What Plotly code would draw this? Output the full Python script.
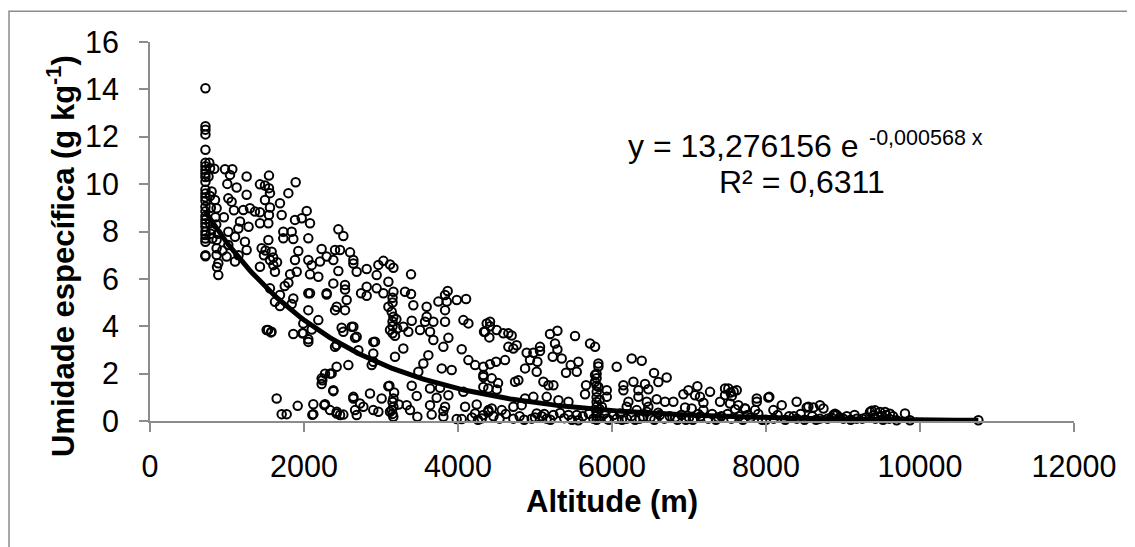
import numpy as np
import plotly.graph_objects as go

# ---- data (altitude in m, specific humidity in g/kg) ----
alt_a = [720, 720, 720, 720, 720, 720, 720, 720, 720, 720, 720, 720, 720, 720, 720, 720, 720, 720,
         720, 720, 720, 720, 720, 720, 720, 720, 720,
         770, 780, 760, 800, 780, 790, 779, 800, 790, 810,
         835, 844, 865, 850, 865, 865, 865, 887, 870, 887, 860, 880,
         974, 1004, 1017, 1017, 1017, 995, 960, 940,
         1039, 1069, 1060, 1104, 1104, 1125, 1147, 1169, 1090, 1150,
         1212, 1233, 1255, 1255, 1255, 1298, 1280]
hum_a = [14.05, 12.44, 12.3, 12.1, 11.45, 10.9, 10.75, 10.6, 10.45, 10.3, 10.1, 9.76, 9.6, 9.45, 9.3, 9.05, 8.85, 8.65,
         8.5, 8.35, 8.2, 8.0, 7.85, 7.7, 7.57, 7.0, 6.95,
         10.9, 10.67, 10.32, 9.69, 9.5, 9.0, 8.35, 8.1, 7.9, 7.7,
         10.65, 9.33, 8.98, 8.6, 7.64, 7.29, 7.01, 6.66, 6.5, 6.16, 8.3, 7.9,
         10.63, 10.01, 9.4, 7.99, 7.43, 6.94, 8.6, 7.2,
         10.39, 10.63, 9.26, 7.78, 6.73, 9.86, 8.13, 8.42, 8.9, 7.0,
         8.91, 7.57, 10.32, 9.55, 7.22, 8.98, 8.2]

alt_b = [1363, 1428, 1428, 1428, 1450, 1428, 1493, 1493, 1537, 1537, 1545, 1545, 1545, 1558, 1558, 1558, 1558,
         1580, 1602, 1623, 1623, 1534, 1578, 1515, 1571, 1645, 1688, 1688, 1688, 1710, 1710, 1731, 1731, 1775,
         1797, 1797, 1840, 1840, 1861, 1861, 1861, 1883, 1883, 1892, 1905, 1918, 1926, 1970, 1978, 1991, 1991,
         2035, 2056, 2056, 2056, 2056, 2056, 2056, 2078, 2078, 2078, 2100, 2100, 1480, 1600, 1650, 1500, 1820, 1750]
hum_b = [8.84, 9.99, 8.81, 8.35, 7.29, 6.51, 9.94, 9.33, 8.35, 7.64, 10.36, 9.83, 8.7, 9.62, 9.01, 6.8, 5.6,
         7.15, 6.58, 6.3, 5.03, 3.84, 3.77, 3.84, 3.74, 0.95, 9.19, 5.32, 4.85, 8.7, 0.29, 7.99, 7.71, 0.29,
         9.62, 5.84, 7.99, 4.94, 7.68, 5.17, 3.67, 8.49, 6.8, 10.08, 6.3, 0.64, 7.18, 8.56, 3.7, 4.12, 3.7,
         8.87, 7.71, 6.8, 5.39, 4.68, 3.45, 3.34, 8.35, 6.19, 5.39, 6.58, 3.86, 7.0, 6.9, 6.7, 7.2, 6.2, 5.7]

alt_c = [2108, 2121, 2121, 2186, 2186, 2208, 2229, 2229, 2229, 2238, 2264, 2273, 2273, 2294, 2294, 2294, 2338,
         2338, 2359, 2381, 2381, 2381, 2381, 2403, 2403, 2403, 2424, 2424, 2424, 2425, 2425, 2446, 2446, 2468,
         2468, 2489, 2511, 2511, 2511, 2533, 2533, 2533, 2554, 2576, 2598, 2619, 2641, 2641, 2641, 2641, 2641,
         2663, 2663, 2684, 2684, 2684, 2706, 2727, 2741, 2771, 2814, 2814, 2814, 2857, 2879, 2900, 2900, 2900,
         2900, 2922, 2944, 2944, 2966, 2966, 3008]
hum_c = [0.26, 0.71, 0.29, 6.09, 4.26, 6.73, 7.26, 1.8, 1.56, 1.72, 0.67, 2.0, 0.71, 6.94, 5.34, 5.39, 2.0,
         0.46, 2.01, 6.8, 5.81, 1.26, 1.3, 7.22, 4.68, 3.13, 3.21, 2.29, 0.32, 4.82, 0.39, 8.09, 6.33, 7.22,
         0.25, 3.94, 7.81, 3.77, 0.27, 5.74, 5.55, 4.68, 5.11, 2.36, 7.12, 3.98, 6.8, 6.65, 3.98, 1.02, 0.95,
         3.51, 0.46, 6.3, 3.56, 0.25, 2.99, 0.74, 5.39, 0.6, 6.42, 5.67, 5.29, 1.16, 2.36, 3.34, 2.85, 2.5,
         0.46, 3.35, 6.16, 5.6, 6.59, 0.39, 0.95]

alt_d = [3031, 3031, 3096, 3096, 3095, 3109, 3117, 3117, 3117, 3139, 3139, 3160, 3161, 3161, 3161, 3161, 3161,
         3150, 3150, 3150, 3150, 3150, 3150, 3150, 3170, 3182, 3182, 3200, 3210, 3230, 3290, 3290, 3312, 3334,
         3355, 3377, 3390, 3390, 3399, 3399, 3420, 3464, 3472, 3485, 3507, 3550, 3572, 3593, 3593, 3615, 3637,
         3637, 3637, 3658, 3680, 3680, 3723, 3745, 3767, 3789, 3810, 3810, 3810, 3832, 3832, 3832, 3832, 3854,
         3866, 3875, 3875, 3918, 3984, 3983]
hum_d = [6.76, 5.39, 5.88, 4.82, 1.47, 1.49, 6.61, 3.84, 0.39, 4.61, 0.46, 0.18, 6.47, 5.46, 4.4, 0.95, 0.6,
         5.2, 5.0, 4.2, 4.0, 3.7, 0.8, 0.3, 1.2, 3.6, 2.71, 4.3, 3.9, 0.7, 3.98, 3.06, 5.46, 0.67,
         3.77, 0.46, 6.19, 5.36, 4.23, 1.49, 4.89, 1.06, 0.18, 2.08, 3.84, 2.43, 4.19, 4.82, 4.4, 2.78, 3.77,
         1.37, 0.67, 0.27, 4.19, 3.42, 0.98, 5.04, 1.4, 2.22, 3.13, 0.42, 0.18, 5.32, 4.68, 4.19, 0.6, 5.04,
         5.49, 3.51, 1.09, 2.15, 5.11, 0.08]

alt_e = [4048, 4048, 4070, 4070, 4092, 4105, 4135, 4135, 4222, 4222, 4243, 4308, 4330, 4330, 4329, 4329, 4329,
         4338, 4352, 4373, 4394, 4394, 4395, 4407, 4416, 4416, 4416, 4438, 4438, 4494, 4503, 4503, 4520, 4568,
         4589, 4611, 4654, 4654, 4697, 4719, 4719, 4719, 4741, 4762, 4784, 4827, 4871, 4871, 4892, 4935, 4957,
         4979, 4979]
hum_e = [3.03, 0.08, 4.26, 1.23, 0.6, 5.15, 4.12, 2.57, 2.36, 0.32, 0.7, 0.11, 2.29, 1.94, 1.86, 1.44, 0.25,
         3.77, 3.77, 4.12, 1.37, 0.39, 0.46, 3.53, 4.19, 4.0, 2.4, 1.8, 0.53, 2.5, 3.84, 1.33, 1.6, 0.46,
         3.7, 2.57, 3.7, 3.13, 3.61, 3.06, 0.6, 0.1, 1.66, 3.2, 1.72, 0.67, 2.22, 0.95, 2.88, 2.57, 0.1,
         2.88, 1.02]

alt_f = [5022, 5022, 5031, 5065, 5065, 5087, 5109, 5152, 5152, 5174, 5195, 5230, 5239, 5239, 5260, 5291, 5291,
         5304, 5325, 5347, 5403, 5434, 5434, 5464, 5520, 5542, 5542, 5563, 5563, 5663, 5650, 5715, 5758, 5780,
         5780, 5780, 5802, 5802, 5823, 5823, 5823, 5800, 5800, 5800, 5800, 5800, 5800, 5800, 5800, 5800, 5840,
         5840, 5840, 5867, 5932, 5932, 5932, 5900, 5960]
hum_f = [2.08, 0.32, 2.5, 3.13, 2.95, 0.2, 1.66, 1.02, 0.1, 1.51, 3.67, 2.71, 1.51, 0.25, 3.27, 3.81, 3.02,
         0.88, 0.34, 2.64, 2.04, 0.81, 0.25, 2.36, 3.59, 2.08, 0.25, 2.5, 0.03, 1.51, 1.13, 3.27, 0.1, 3.13,
         1.94, 1.66, 1.23, 0.32, 2.43, 2.3, 1.44, 2.0, 1.8, 1.5, 1.0, 0.8, 0.6, 0.4, 0.2, 0.05, 0.9,
         0.5, 0.15, 0.6, 1.3, 1.02, 0.1, 0.3, 0.05]

alt_g = [6061, 6061, 6105, 6148, 6148, 6191, 6191, 6213, 6256, 6278, 6321, 6343, 6343, 6386, 6408, 6429, 6451,
         6451, 6472, 6472, 6546, 6580, 6602, 6689, 6710, 6797, 6927, 6949, 6992, 7035, 7078, 7109, 7143, 7187,
         7187, 7273, 7403, 7468, 7468,
         6250, 6300, 6500, 6550, 6620, 6680, 6750, 6850, 6900, 7000, 7050, 7150, 7250, 7300, 7350, 7420]
hum_g = [2.29, 0.1, 0.32, 1.51, 1.3, 0.6, 0.1, 0.81, 2.64, 1.66, 0.46, 1.3, 1.02, 2.54, 0.18, 1.56, 0.81,
         0.39, 1.34, 0.6, 2.03, 0.92, 1.65, 0.81, 1.84, 0.81, 1.13, 0.57, 1.3, 0.53, 1.09, 1.47, 1.02, 0.77,
         0.46, 1.23, 0.81, 1.37, 1.09,
         0.2, 0.05, 0.15, 0.05, 0.25, 0.1, 0.2, 0.05, 0.25, 0.15, 0.05, 0.2, 0.1, 0.3, 0.05, 0.2]

alt_h = [7511, 7533, 7555, 7540, 7580, 7620, 7641, 7727, 7728, 7858, 7880, 7880, 8031, 8043, 8096, 8204, 8398,
         8529, 8550, 8616, 8701, 8746, 8876, 8896, 8919, 9004, 9177, 9351, 9372, 9416, 9459, 9481, 9546, 9610,
         9697, 9805, 9870, 10758,
         7500, 7550, 7600, 7650, 7700, 7800, 7900, 7950, 8100, 8150, 8250, 8300, 8400, 8450, 8500, 8600, 8650,
         8800, 8850, 9050, 9100, 9250, 9300, 9400, 9420, 9500, 9520, 9560, 9600, 9650]
hum_h = [1.37, 0.74, 1.05, 1.2, 1.25, 1.3, 0.67, 0.53, 0.53, 0.46, 0.95, 0.81, 0.99, 1.02, 0.46, 0.67, 0.81,
         0.57, 0.6, 0.57, 0.67, 0.53, 0.25, 0.31, 0.25, 0.1, 0.1, 0.38, 0.43, 0.45, 0.17, 0.38, 0.38, 0.31,
         0.03, 0.32, 0.03, 0.03,
         0.3, 0.1, 0.5, 0.2, 0.05, 0.15, 0.3, 0.05, 0.1, 0.25, 0.05, 0.2, 0.1, 0.3, 0.05, 0.2, 0.05,
         0.1, 0.15, 0.2, 0.05, 0.1, 0.15, 0.25, 0.1, 0.2, 0.05, 0.25, 0.1, 0.2]

# extra near-zero readings along the baseline (4000-9000 m)
alt_i = [4180, 4260, 4460, 4540, 4620, 4800, 4860, 5000, 5120, 5200, 5380, 5480, 5620, 5700,
         6020, 6130, 6360, 6600, 6820, 6960, 7120, 7380, 7760, 8000, 8360, 8700, 8960, 9150]
hum_i = [0.15, 0.05, 0.2, 0.1, 0.3, 0.2, 0.05, 0.15, 0.3, 0.05, 0.12, 0.05, 0.2, 0.3,
         0.25, 0.05, 0.1, 0.35, 0.15, 0.05, 0.3, 0.15, 0.25, 0.05, 0.2, 0.1, 0.15, 0.25]

# trendline coefficients printed on the chart: y = A * exp(B * x)
trend_a = 13.276156
trend_b = -0.000568
trend_x_range = [720, 10758]

x_ticks = [0, 2000, 4000, 6000, 8000, 10000, 12000]
y_ticks = [0, 2, 4, 6, 8, 10, 12, 14, 16]

altitude = alt_a + alt_b + alt_c + alt_d + alt_e + alt_f + alt_g + alt_h + alt_i
umidade = hum_a + hum_b + hum_c + hum_d + hum_e + hum_f + hum_g + hum_h + hum_i

tx = np.linspace(trend_x_range[0], trend_x_range[1], 300)
ty = trend_a * np.exp(trend_b * tx)

FONT = "Liberation Sans, Arial, sans-serif"
AX = "#8c8c8c"

# page body has an 8px default margin: figure is sized/offset to compensate
fig = go.Figure()
fig.add_trace(go.Scatter(
    x=altitude, y=umidade, mode="markers",
    marker=dict(symbol="circle-open", size=8.5, color="black", line=dict(width=2, color="black")),
    showlegend=False, cliponaxis=False))
fig.add_trace(go.Scatter(
    x=tx, y=ty, mode="lines", line=dict(color="black", width=5), showlegend=False))

fig.update_layout(
    width=1127, height=539,
    margin=dict(l=142, r=61, t=34, b=126, pad=0),
    paper_bgcolor="white", plot_bgcolor="white",
    font=dict(family=FONT, size=31, color="black"),
    xaxis=dict(range=[0, 12000], tickvals=x_ticks, ticktext=[str(v) for v in x_ticks],
               showgrid=False, zeroline=False, showline=True, linecolor=AX, linewidth=2,
               ticks="outside", ticklen=9, tickwidth=2, tickcolor=AX,
               tickfont=dict(size=30.5, family=FONT, color="black"), ticklabelstandoff=8),
    yaxis=dict(range=[0, 16], tickvals=y_ticks, ticktext=[str(v) for v in y_ticks],
               showgrid=False, zeroline=False, showline=True, linecolor=AX, linewidth=2,
               ticks="outside", ticklen=9, tickwidth=2, tickcolor=AX,
               tickfont=dict(size=30.5, family=FONT, color="black"), ticklabelstandoff=14),
    shapes=[dict(type="rect", xref="paper", yref="paper",
                 x0=(9 - 150) / 924, x1=(1145 - 150) / 924,
                 y0=(420.7 - 560) / 378.4, y1=(420.7 - 11.7) / 378.4,
                 line=dict(color=AX, width=1.5), fillcolor="rgba(0,0,0,0)", layer="below")],
    annotations=[
        dict(text="<b>Altitude (m)</b>", xref="paper", yref="paper",
             x=(612 - 150) / 924, y=(420.7 - 501) / 378.4, xanchor="center", yanchor="middle",
             showarrow=False, font=dict(size=31, family=FONT)),
        dict(text="<b>Umidade específica (g kg<sup>-1</sup>)</b>", xref="paper", yref="paper",
             x=(61 - 150) / 924, y=(420.7 - 256) / 378.4, xanchor="center", yanchor="middle",
             textangle=-90, showarrow=False, font=dict(size=31, family=FONT)),
        dict(text="y = 13,276156 e", xref="x", yref="y",
             x=(627 - 150) / 0.077, y=(420.7 - 146.3) / 23.65, xanchor="left", yanchor="middle",
             showarrow=False, font=dict(size=32, family=FONT), borderpad=0),
        dict(text="-0,000568 x", xref="x", yref="y",
             x=(868 - 150) / 0.077, y=(420.7 - 138.5) / 23.65, xanchor="left", yanchor="middle",
             showarrow=False, font=dict(size=21.5, family=FONT), borderpad=0),
        dict(text="R² = 0,6311", xref="x", yref="y",
             x=(802 - 150) / 0.077, y=(420.7 - 182.3) / 23.65, xanchor="center", yanchor="middle",
             showarrow=False, font=dict(size=32, family=FONT), borderpad=0),
    ],
)

fig.write_html("out.html")
